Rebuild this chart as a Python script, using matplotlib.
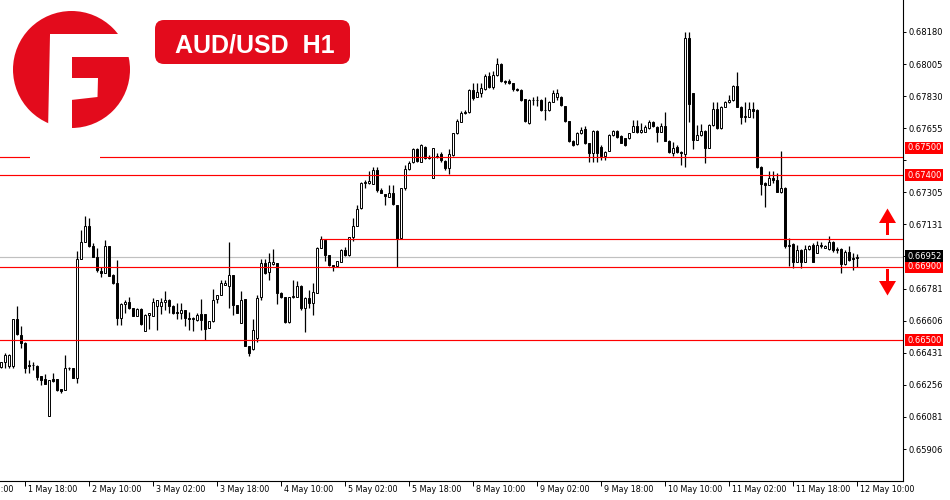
import numpy as np
import matplotlib
matplotlib.use("Agg")
import matplotlib.pyplot as plt
import matplotlib.transforms as mtransforms
from matplotlib.patches import Circle, Rectangle, Polygon, FancyBboxPatch

plt.rcParams['font.family'] = ['DejaVu Sans']

# ---------------- data (AUD/USD H1, 1 May 12:00 -> 12 May 10:00) ----------------
opens = [
    0.66355, 0.66382, 0.66360, 0.66360, 0.66615, 0.66528, 0.66486, 0.66364, 0.66364, 0.66359,
    0.66304, 0.66288, 0.66088, 0.66288, 0.66288, 0.66233, 0.66228, 0.66346, 0.66346, 0.66295,
    0.66940, 0.67033, 0.67122, 0.67015, 0.66951, 0.66877, 0.66864, 0.67013, 0.66855, 0.66809,
    0.66622, 0.66695, 0.66706, 0.66673, 0.66633, 0.66670, 0.66550, 0.66637, 0.66633, 0.66686,
    0.66686, 0.66706, 0.66719, 0.66686, 0.66651, 0.66646, 0.66664, 0.66622, 0.66613, 0.66609,
    0.66640, 0.66640, 0.66564, 0.66604, 0.66722, 0.66746, 0.66800, 0.66795, 0.66855, 0.66691,
    0.66591, 0.66722, 0.66470, 0.66449, 0.66509, 0.66733, 0.66918, 0.66873, 0.66913, 0.66918,
    0.66758, 0.66736, 0.66600, 0.66737, 0.66737, 0.66795, 0.66673, 0.66727, 0.66700, 0.66758,
    0.67004, 0.67045, 0.66964, 0.66909, 0.66904, 0.66927, 0.66991, 0.66964, 0.67060, 0.67122,
    0.67218, 0.67358, 0.67355, 0.67351, 0.67427, 0.67318, 0.67295, 0.67282, 0.67304, 0.67237,
    0.67055, 0.67327, 0.67433, 0.67473, 0.67542, 0.67473, 0.67551, 0.67495, 0.67382, 0.67500,
    0.67513, 0.67477, 0.67436, 0.67509, 0.67627, 0.67691, 0.67745, 0.67745, 0.67864, 0.67827,
    0.67849, 0.67869, 0.67940, 0.67882, 0.67945, 0.68005, 0.67914, 0.67913, 0.67900, 0.67869,
    0.67864, 0.67813, 0.67682, 0.67809, 0.67807, 0.67811, 0.67755, 0.67752, 0.67800, 0.67827,
    0.67827, 0.67776, 0.67695, 0.67587, 0.67567, 0.67627, 0.67649, 0.67573, 0.67522, 0.67640,
    0.67555, 0.67504, 0.67533, 0.67618, 0.67640, 0.67613, 0.67600, 0.67600, 0.67636, 0.67667,
    0.67636, 0.67636, 0.67655, 0.67691, 0.67664, 0.67636, 0.67667, 0.67587, 0.67522, 0.67555,
    0.67527, 0.67513, 0.68146, 0.67846, 0.67591, 0.67618, 0.67640, 0.67549, 0.67673, 0.67760,
    0.67655, 0.67773, 0.67796, 0.67809, 0.67886, 0.67773, 0.67718, 0.67718, 0.67760, 0.67755,
    0.67445, 0.67355, 0.67346, 0.67386, 0.67373, 0.67309, 0.67331, 0.67015, 0.67022, 0.66928,
    0.66991, 0.66928, 0.66996, 0.67018, 0.66976, 0.67018, 0.67004, 0.66995, 0.67036, 0.66991,
    0.66996, 0.66913, 0.66982, 0.66949, 0.66946,
]
highs = [
    0.66382, 0.66428, 0.66424, 0.66615, 0.66686, 0.66577, 0.66491, 0.66391, 0.66382, 0.66364,
    0.66304, 0.66315, 0.66282, 0.66319, 0.66288, 0.66233, 0.66419, 0.66355, 0.66346, 0.66986,
    0.67100, 0.67177, 0.67164, 0.67030, 0.67000, 0.66900, 0.67046, 0.67013, 0.66860, 0.66937,
    0.66700, 0.66719, 0.66733, 0.66673, 0.66673, 0.66673, 0.66640, 0.66646, 0.66728, 0.66719,
    0.66728, 0.66768, 0.66724, 0.66690, 0.66700, 0.66700, 0.66664, 0.66655, 0.66625, 0.66650,
    0.66724, 0.66640, 0.66604, 0.66777, 0.66746, 0.66828, 0.66828, 0.67033, 0.66855, 0.66691,
    0.66769, 0.66722, 0.66470, 0.66613, 0.66746, 0.66940, 0.66940, 0.66977, 0.66997, 0.66918,
    0.66760, 0.66737, 0.66737, 0.66827, 0.66822, 0.66800, 0.66737, 0.66773, 0.66809, 0.67009,
    0.67067, 0.67049, 0.66966, 0.66911, 0.66933, 0.66998, 0.67009, 0.67064, 0.67164, 0.67237,
    0.67364, 0.67373, 0.67422, 0.67446, 0.67446, 0.67327, 0.67295, 0.67346, 0.67346, 0.67237,
    0.67327, 0.67455, 0.67476, 0.67546, 0.67546, 0.67567, 0.67560, 0.67509, 0.67549, 0.67518,
    0.67527, 0.67480, 0.67542, 0.67630, 0.67704, 0.67749, 0.67755, 0.67867, 0.67900, 0.67900,
    0.67900, 0.67949, 0.67964, 0.67969, 0.68036, 0.68013, 0.67920, 0.67922, 0.67903, 0.67873,
    0.67867, 0.67815, 0.67813, 0.67827, 0.67831, 0.67815, 0.67827, 0.67805, 0.67864, 0.67867,
    0.67830, 0.67778, 0.67697, 0.67590, 0.67636, 0.67664, 0.67667, 0.67575, 0.67645, 0.67645,
    0.67564, 0.67530, 0.67624, 0.67645, 0.67645, 0.67618, 0.67604, 0.67631, 0.67700, 0.67700,
    0.67682, 0.67673, 0.67700, 0.67695, 0.67667, 0.67682, 0.67742, 0.67590, 0.67582, 0.67564,
    0.67530, 0.68182, 0.68182, 0.67850, 0.67673, 0.67676, 0.67645, 0.67676, 0.67796, 0.67796,
    0.67776, 0.67804, 0.67836, 0.67891, 0.67960, 0.67776, 0.67800, 0.67800, 0.67800, 0.67760,
    0.67451, 0.67364, 0.67422, 0.67422, 0.67409, 0.67531, 0.67335, 0.67055, 0.67027, 0.67018,
    0.66995, 0.67018, 0.67018, 0.67027, 0.67040, 0.67036, 0.67018, 0.67069, 0.67040, 0.67009,
    0.67000, 0.66991, 0.67015, 0.66973, 0.66971,
]
lows = [
    0.66346, 0.66346, 0.66346, 0.66346, 0.66528, 0.66455, 0.66319, 0.66319, 0.66337, 0.66282,
    0.66255, 0.66261, 0.66088, 0.66273, 0.66225, 0.66213, 0.66228, 0.66337, 0.66295, 0.66268,
    0.66940, 0.67033, 0.67010, 0.66951, 0.66873, 0.66846, 0.66864, 0.66851, 0.66805, 0.66582,
    0.66582, 0.66646, 0.66670, 0.66630, 0.66630, 0.66582, 0.66550, 0.66560, 0.66630, 0.66555,
    0.66640, 0.66664, 0.66646, 0.66640, 0.66615, 0.66615, 0.66577, 0.66555, 0.66551, 0.66605,
    0.66555, 0.66500, 0.66564, 0.66600, 0.66700, 0.66746, 0.66800, 0.66673, 0.66637, 0.66646,
    0.66591, 0.66466, 0.66415, 0.66446, 0.66491, 0.66718, 0.66860, 0.66827, 0.66910, 0.66697,
    0.66730, 0.66595, 0.66595, 0.66730, 0.66733, 0.66664, 0.66546, 0.66673, 0.66637, 0.66755,
    0.67000, 0.66933, 0.66904, 0.66878, 0.66900, 0.66927, 0.66958, 0.66960, 0.67042, 0.67120,
    0.67215, 0.67327, 0.67353, 0.67349, 0.67309, 0.67300, 0.67237, 0.67280, 0.67237, 0.66896,
    0.67050, 0.67320, 0.67425, 0.67467, 0.67473, 0.67470, 0.67490, 0.67490, 0.67382, 0.67491,
    0.67473, 0.67427, 0.67404, 0.67505, 0.67625, 0.67690, 0.67731, 0.67740, 0.67809, 0.67824,
    0.67827, 0.67865, 0.67873, 0.67869, 0.67940, 0.67909, 0.67895, 0.67894, 0.67860, 0.67860,
    0.67805, 0.67691, 0.67680, 0.67782, 0.67776, 0.67751, 0.67700, 0.67750, 0.67798, 0.67809,
    0.67778, 0.67687, 0.67582, 0.67558, 0.67564, 0.67625, 0.67570, 0.67473, 0.67473, 0.67473,
    0.67482, 0.67482, 0.67530, 0.67615, 0.67600, 0.67573, 0.67560, 0.67598, 0.67633, 0.67631,
    0.67627, 0.67633, 0.67652, 0.67664, 0.67582, 0.67633, 0.67585, 0.67522, 0.67504, 0.67522,
    0.67455, 0.67445, 0.67691, 0.67542, 0.67589, 0.67615, 0.67464, 0.67547, 0.67670, 0.67651,
    0.67651, 0.67770, 0.67793, 0.67805, 0.67770, 0.67676, 0.67691, 0.67715, 0.67709, 0.67440,
    0.67291, 0.67227, 0.67344, 0.67355, 0.67306, 0.67300, 0.67004, 0.66906, 0.66895, 0.66924,
    0.66895, 0.66924, 0.66993, 0.66924, 0.66973, 0.67004, 0.67000, 0.66991, 0.66982, 0.66973,
    0.66864, 0.66909, 0.66931, 0.66882, 0.66900,
]
closes = [
    0.66379, 0.66419, 0.66419, 0.66615, 0.66531, 0.66482, 0.66350, 0.66359, 0.66362, 0.66300,
    0.66282, 0.66261, 0.66282, 0.66279, 0.66228, 0.66222, 0.66346, 0.66350, 0.66295, 0.66940,
    0.67033, 0.67122, 0.67015, 0.66951, 0.66882, 0.66864, 0.67013, 0.66851, 0.66809, 0.66619,
    0.66695, 0.66706, 0.66673, 0.66633, 0.66670, 0.66586, 0.66637, 0.66646, 0.66706, 0.66719,
    0.66706, 0.66719, 0.66686, 0.66646, 0.66646, 0.66664, 0.66619, 0.66613, 0.66622, 0.66637,
    0.66609, 0.66559, 0.66604, 0.66719, 0.66746, 0.66809, 0.66813, 0.66855, 0.66691, 0.66646,
    0.66719, 0.66470, 0.66428, 0.66555, 0.66727, 0.66918, 0.66867, 0.66924, 0.66924, 0.66758,
    0.66733, 0.66600, 0.66737, 0.66740, 0.66795, 0.66673, 0.66727, 0.66700, 0.66764, 0.67000,
    0.67049, 0.66964, 0.66909, 0.66900, 0.66931, 0.66991, 0.66964, 0.67060, 0.67122, 0.67213,
    0.67358, 0.67362, 0.67367, 0.67427, 0.67318, 0.67300, 0.67286, 0.67304, 0.67240, 0.67049,
    0.67327, 0.67433, 0.67467, 0.67542, 0.67477, 0.67564, 0.67495, 0.67500, 0.67546, 0.67502,
    0.67482, 0.67440, 0.67513, 0.67627, 0.67697, 0.67740, 0.67736, 0.67864, 0.67818, 0.67855,
    0.67873, 0.67940, 0.67882, 0.67945, 0.68005, 0.67914, 0.67905, 0.67900, 0.67869, 0.67864,
    0.67809, 0.67695, 0.67809, 0.67807, 0.67811, 0.67755, 0.67752, 0.67800, 0.67845, 0.67845,
    0.67781, 0.67695, 0.67587, 0.67564, 0.67627, 0.67645, 0.67573, 0.67522, 0.67640, 0.67522,
    0.67504, 0.67527, 0.67618, 0.67640, 0.67606, 0.67576, 0.67564, 0.67627, 0.67667, 0.67636,
    0.67645, 0.67664, 0.67691, 0.67667, 0.67636, 0.67667, 0.67587, 0.67527, 0.67545, 0.67527,
    0.67518, 0.68146, 0.67785, 0.67591, 0.67618, 0.67640, 0.67549, 0.67673, 0.67760, 0.67655,
    0.67773, 0.67796, 0.67809, 0.67886, 0.67773, 0.67718, 0.67722, 0.67760, 0.67749, 0.67445,
    0.67351, 0.67346, 0.67386, 0.67373, 0.67309, 0.67331, 0.67015, 0.67018, 0.66924, 0.66991,
    0.66924, 0.66996, 0.67013, 0.66928, 0.67018, 0.67015, 0.67015, 0.67036, 0.66991, 0.66998,
    0.66913, 0.66982, 0.66936, 0.66940, 0.66952,
]

# price axis ticks (two are hidden behind the level boxes)
ytick_values = [0.68180, 0.68005, 0.67830, 0.67655, 0.67480, 0.67305, 0.67131,
                0.66956, 0.66781, 0.66606, 0.66431, 0.66256, 0.66081, 0.65906]
ytick_labels = ["0.68180", "0.68005", "0.67830", "0.67655", "", "0.67305", "0.67131",
                "", "0.66781", "0.66606", "0.66431", "0.66256", "0.66081", "0.65906"]

# time axis labels (every 16 bars, first one partly off-screen)
xtick_labels = ["1 May 02:00", "1 May 18:00", "2 May 10:00", "3 May 02:00", "3 May 18:00",
                "4 May 10:00", "5 May 02:00", "5 May 18:00", "8 May 10:00", "9 May 02:00",
                "9 May 18:00", "10 May 10:00", "11 May 02:00", "11 May 18:00", "12 May 10:00"]
first_label_bar = -10
label_step = 16

# horizontal levels
red_levels = [0.67500, 0.67400, 0.66900, 0.66500]
red_level_labels = ["0.67500", "0.67400", "0.66900", "0.66500"]
partial_level = 0.67050      # drawn from bar 80 rightwards
partial_level_start = 80
bid_price = 0.66952
bid_label = "0.66952"

title = "AUD/USD  H1"

# ---------------- figure ----------------
RED = "#FF0000"
BRAND = "#E30B1C"
fig = plt.figure(figsize=(9.5, 5), dpi=100)
ax = fig.add_axes([0, 19 / 500, 903 / 950, 481 / 500])

o = np.array(opens); h = np.array(highs); l = np.array(lows); c = np.array(closes)
x = np.arange(len(o))
up = c >= o

ax.vlines(x, l, h, color="black", linewidth=0.9, zorder=2)
ax.bar(x, np.abs(c - o), bottom=np.minimum(o, c), width=0.55,
       color=np.where(up, "white", "black"), edgecolor="black", linewidth=0.7, zorder=3)

ax.set_xlim(-0.25, 225.5)
ax.set_ylim(0.657315, 0.683545)

# levels
for lv in red_levels:
    ax.axhline(lv, color=RED, linewidth=0.85, zorder=4)
ax.hlines(partial_level, partial_level_start, 225.5, color=RED, linewidth=0.85, zorder=4)
ax.axhline(bid_price, color="#C0C0C0", linewidth=0.85, zorder=1)

# spines
for s in ["top", "left"]:
    ax.spines[s].set_visible(False)
for s in ["right", "bottom"]:
    ax.spines[s].set_linewidth(0.8)
    ax.spines[s].set_color("black")

# y axis on the right
ax.yaxis.tick_right()
ax.set_yticks(ytick_values)
ax.set_yticklabels(ytick_labels)
ax.tick_params(axis="y", direction="out", length=2.5, width=0.7, pad=1.5,
               labelsize=6, colors="black")

# x axis
tick_pos = np.arange(len(xtick_labels)) * label_step + first_label_bar
visible = tick_pos >= 0
ax.set_xticks(tick_pos[visible])
ax.set_xticklabels([])
ax.tick_params(axis="x", direction="out", length=3.5, width=0.7)
xblend = mtransforms.blended_transform_factory(ax.transData, ax.transAxes)
for pos, lab in zip(tick_pos, xtick_labels):
    ax.annotate(lab, xy=(pos, 0), xycoords=xblend, xytext=(2.5, -4.5),
                textcoords="offset pixels", ha="left", va="top", fontsize=5.8,
                annotation_clip=False)

# level boxes on the price axis
yblend = mtransforms.blended_transform_factory(ax.transAxes, ax.transData)
box_shift = {0.67500: 9}
for lv, lab in zip(red_levels, red_level_labels):
    ax.annotate(lab, xy=(1, lv), xycoords=yblend, xytext=(4, box_shift.get(lv, 0)),
                textcoords="offset pixels", ha="left", va="center", fontsize=6,
                color="white", annotation_clip=False, zorder=10,
                bbox=dict(boxstyle="square,pad=0.2", fc=RED, ec="none"))
ax.annotate(bid_label, xy=(1, bid_price), xycoords=yblend, xytext=(4, 1),
            textcoords="offset pixels", ha="left", va="center", fontsize=6,
            color="white", annotation_clip=False, zorder=10,
            bbox=dict(boxstyle="square,pad=0.2", fc="black", ec="none"))

# pixel transform (image coordinates, origin top-left)
T = mtransforms.Affine2D().scale(1 / 100, -1 / 100).translate(0, 5) + fig.dpi_scale_trans

# logo with its white background
fig.add_artist(Rectangle((30, 0), 70, 160, transform=T, fc="white", ec="none", zorder=20))
fig.add_artist(Circle((71.5, 69.5), 58.5, transform=T, fc=BRAND, ec="none", zorder=21))
fig.add_artist(Polygon([(49.5, 35), (72, 35), (72, 132), (48, 132)], closed=True,
                       transform=T, fc="white", ec="none", zorder=22))
fig.add_artist(Polygon([(49.5, 34), (140, 34), (140, 57), (49.5, 57)], closed=True,
                       transform=T, fc="white", ec="none", zorder=22))
fig.add_artist(Polygon([(71, 78), (98, 78), (97.5, 97), (71, 100)], closed=True,
                       transform=T, fc="white", ec="none", zorder=22))

# title badge
fig.add_artist(FancyBboxPatch((155, 20), 195, 44, boxstyle="round,pad=0,rounding_size=9",
                              transform=T, fc=BRAND, ec="none", zorder=21))
fig.text(254.5, 52.3, title, transform=T, ha="center", va="baseline",
         fontsize=18, fontweight="bold", color="white", zorder=22,
         family=["Liberation Sans", "DejaVu Sans"])

# arrows
fig.add_artist(Polygon([(887.5, 208.5), (896, 223), (889, 223), (889, 235), (886, 235),
                        (886, 223), (879, 223)], closed=True, transform=T,
                       fc=RED, ec="none", zorder=20))
fig.add_artist(Polygon([(886, 269), (889, 269), (889, 281), (896, 281), (887.5, 295.5),
                        (879, 281), (886, 281)], closed=True, transform=T,
                       fc=RED, ec="none", zorder=20))

fig.savefig("out.png", dpi=100, facecolor="white")
